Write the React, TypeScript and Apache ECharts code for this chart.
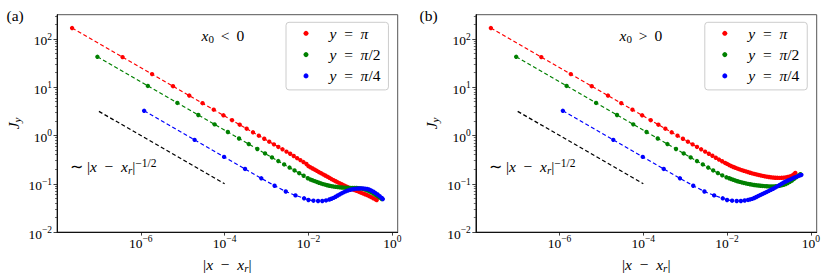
import React, { useEffect, useRef } from 'react';
import * as echarts from 'echarts';

// ---- data (log10 of |x - x_r| and log10 of J_y) ----
const redX = [-7.640, -6.436, -5.732, -5.232, -4.844, -4.527, -4.260, -4.028, -3.823, -3.640, -3.474, -3.323, -3.184, -3.055, -2.936, -2.824, -2.718, -2.619, -2.525, -2.436, -2.351, -2.270, -2.193, -2.119, -2.048,
  -2.00, -1.95, -1.90, -1.85, -1.80, -1.75, -1.70, -1.65, -1.60, -1.55, -1.50, -1.45, -1.40, -1.35, -1.30, -1.25, -1.20, -1.15, -1.10, -1.05, -1.00, -0.95, -0.90, -0.85, -0.80, -0.75, -0.70, -0.65, -0.60, -0.55, -0.50, -0.45, -0.40, -0.37];
const redYA = [2.224, 1.622, 1.270, 1.020, 0.826, 0.668, 0.534, 0.418, 0.316, 0.224, 0.141, 0.066, -0.004, -0.068, -0.128, -0.184, -0.237, -0.287, -0.334, -0.378, -0.425, -0.470, -0.510, -0.550, -0.590,
  -0.635, -0.659, -0.684, -0.708, -0.732, -0.757, -0.781, -0.805, -0.829, -0.853, -0.877, -0.902, -0.926, -0.948, -0.969, -0.990, -1.011, -1.033, -1.054, -1.075, -1.096, -1.113, -1.130, -1.147, -1.164, -1.182, -1.199, -1.216, -1.234, -1.256, -1.278, -1.300, -1.322, -1.337];
const redYB = [2.224, 1.622, 1.270, 1.020, 0.826, 0.668, 0.534, 0.418, 0.316, 0.224, 0.141, 0.066, -0.004, -0.068, -0.128, -0.184, -0.237, -0.287, -0.334, -0.378, -0.420, -0.461, -0.499, -0.534, -0.568,
  -0.588, -0.612, -0.633, -0.652, -0.669, -0.686, -0.702, -0.717, -0.731, -0.744, -0.757, -0.772, -0.784, -0.796, -0.807, -0.817, -0.827, -0.836, -0.845, -0.853, -0.860, -0.866, -0.871, -0.875, -0.877, -0.878, -0.877, -0.874, -0.868, -0.860, -0.848, -0.830, -0.800, -0.776];

const greenX = [-7.036, -5.832, -5.128, -4.628, -4.240, -3.923, -3.656, -3.424, -3.219, -3.036, -2.870, -2.719, -2.580, -2.451, -2.332, -2.220, -2.114, -2.015,
  -1.95, -1.90, -1.85, -1.80, -1.75, -1.70, -1.65, -1.60, -1.55, -1.50, -1.45, -1.40, -1.35, -1.30, -1.25, -1.20, -1.15, -1.10, -1.05, -1.00, -0.95, -0.90, -0.85, -0.80, -0.75, -0.70, -0.65, -0.60, -0.55, -0.50, -0.45, -0.40, -0.35, -0.30, -0.25];
const greenYA = [1.628, 1.026, 0.674, 0.424, 0.230, 0.072, -0.062, -0.178, -0.280, -0.372, -0.455, -0.530, -0.600, -0.664, -0.724, -0.780, -0.833, -0.885,
  -0.912, -0.928, -0.945, -0.962, -0.978, -0.993, -1.007, -1.019, -1.030, -1.040, -1.049, -1.057, -1.063, -1.068, -1.073, -1.077, -1.080, -1.082, -1.084, -1.085, -1.086, -1.086, -1.087, -1.090, -1.096, -1.105, -1.118, -1.135, -1.155, -1.178, -1.202, -1.228, -1.256, -1.286, -1.316];
const greenYB = [1.628, 1.026, 0.674, 0.424, 0.230, 0.072, -0.062, -0.178, -0.280, -0.372, -0.455, -0.530, -0.600, -0.664, -0.724, -0.778, -0.826, -0.866,
  -0.885, -0.902, -0.918, -0.933, -0.947, -0.960, -0.972, -0.983, -0.993, -1.002, -1.010, -1.018, -1.025, -1.031, -1.036, -1.041, -1.045, -1.048, -1.051, -1.053, -1.054, -1.054, -1.052, -1.048, -1.042, -1.033, -1.020, -1.004, -0.984, -0.960, -0.932, -0.900, -0.865, -0.830, -0.800];

const blueX = [-5.921, -4.717, -4.013, -3.513, -3.125, -2.808, -2.541, -2.309, -2.104,
  -2.00, -1.88, -1.77, -1.67, -1.58,
  -1.50, -1.45, -1.40, -1.35, -1.30, -1.25, -1.20, -1.15, -1.10, -1.05, -1.00, -0.95, -0.90, -0.85, -0.80, -0.75, -0.70, -0.65, -0.60, -0.55, -0.50, -0.45, -0.40, -0.35, -0.30, -0.25, -0.225];
const blueYA = [0.511, -0.091, -0.443, -0.693, -0.887, -1.040, -1.160, -1.240, -1.300,
  -1.335, -1.350, -1.356, -1.356, -1.345,
  -1.325, -1.310, -1.292, -1.268, -1.243, -1.218, -1.194, -1.172, -1.153, -1.137, -1.124, -1.114, -1.106, -1.100, -1.097, -1.095, -1.096, -1.100, -1.108, -1.120, -1.140, -1.165, -1.192, -1.222, -1.255, -1.292, -1.316];
const blueYB = [0.511, -0.091, -0.443, -0.693, -0.887, -1.040, -1.160, -1.240, -1.300,
  -1.335, -1.350, -1.356, -1.356, -1.346,
  -1.334, -1.324, -1.312, -1.294, -1.273, -1.252, -1.231, -1.210, -1.189, -1.168, -1.146, -1.124, -1.103, -1.079, -1.053, -1.027, -1.001, -0.975, -0.953, -0.933, -0.914, -0.895, -0.874, -0.857, -0.840, -0.823, -0.815];

const guideX = [-7.0, -4.0];
const guideY = [0.5, -1.0];

const xTickExps = [-6, -4, -2, 0];
const yTickExps = [-2, -1, 0, 1, 2];
const yMinorRaw = [0.02, 0.03, 0.04, 0.05, 0.06, 0.07, 0.08, 0.09, 0.2, 0.3, 0.4, 0.5, 0.6, 0.7, 0.8, 0.9, 2, 3, 4, 5, 6, 7, 8, 9, 20, 30, 40, 50, 60, 70, 80, 90, 200, 300];

const seriesNames = ['y = π', 'y = π/2', 'y = π/4'];
const legendLabels: Record<string, string> = {
  'y = π': '{g| }{i|y}{n|  =  }{i|π}',
  'y = π/2': '{g| }{i|y}{n|  =  }{i|π}{n|/2}',
  'y = π/4': '{g| }{i|y}{n|  =  }{i|π}{n|/4}',
};
const colors = ['#ff0000', '#008000', '#0000ff'];

// ---- styling ----
const SERIF = 'Liberation Serif';
const mathRich = {
  g: { fontFamily: SERIF, fontSize: 15.5, lineHeight: 18, width: 16, color: '#000', verticalAlign: 'middle' },
  i: { fontFamily: SERIF, fontStyle: 'italic', fontSize: 15.5, lineHeight: 18, color: '#000', verticalAlign: 'middle' },
  n: { fontFamily: SERIF, fontSize: 15.5, lineHeight: 18, color: '#000', verticalAlign: 'middle' },
  sub: { fontFamily: SERIF, fontStyle: 'italic', fontSize: 11, lineHeight: 10, color: '#000', verticalAlign: 'bottom' },
  subn: { fontFamily: SERIF, fontSize: 11, lineHeight: 10, color: '#000', verticalAlign: 'bottom' },
  sup: { fontFamily: SERIF, fontSize: 11.5, lineHeight: 8, color: '#000', verticalAlign: 'top' },
};
const tickRich = {
  b: { fontFamily: SERIF, fontSize: 13.5, lineHeight: 18, color: '#000', verticalAlign: 'middle' },
  s: { fontFamily: SERIF, fontSize: 9.5, lineHeight: 8, color: '#000', verticalAlign: 'top' },
};
const powLabel = (v: number) => {
  const e = Math.round(v);
  return '{b|10}{s|' + (e < 0 ? '\u2212' + -e : String(e)) + '}';
};

const panels = [
  { left: 57, width: 340.7, xMax: 0.13, red: redYA, green: greenYA, blue: blueYA, tag: '(a)', tagX: 6.5, note: '{i|x}{subn|0}{n| \u2009<\u2009 0}', noteX: 201.5, annX: 70, legendLeft: 286 },
  { left: 475.8, width: 340.9, xMax: 0.14, red: redYB, green: greenYB, blue: blueYB, tag: '(b)', tagX: 419.5, note: '{i|x}{subn|0}{n| \u2009>\u2009 0}', noteX: 619.5, annX: 489, legendLeft: 704.8 },
];

const GRID_TOP = 14.7;
const GRID_H = 219.3;
const Y_MIN = -2;
const Y_MAX = 2.5;

function buildOption() {
  const grid: any[] = [];
  const xAxis: any[] = [];
  const yAxis: any[] = [];
  const series: any[] = [];
  const legend: any[] = [];
  const graphic: any[] = [];

  panels.forEach((p, k) => {
    grid.push({ left: p.left, top: GRID_TOP, width: p.width, height: GRID_H, show: true, borderColor: '#555', borderWidth: 1, backgroundColor: 'transparent' });
    xAxis.push({
      type: 'value', gridIndex: k, min: -8, max: p.xMax,
      axisLine: { show: true, onZero: false, lineStyle: { color: '#111', width: 1 } },
      axisTick: { show: true, customValues: xTickExps, length: 3.5, lineStyle: { color: '#111', width: 0.8 } },
      axisLabel: { customValues: xTickExps, formatter: powLabel, rich: tickRich, margin: 2 },
      splitLine: { show: false },
      name: '{n||}{i|x}{n|  \u2212  }{i|x}{sub|r}{n||}',
      nameLocation: 'middle', nameGap: 19,
      nameTextStyle: { fontFamily: SERIF, fontSize: 15.5, lineHeight: 18, color: '#000', rich: mathRich },
    });
    yAxis.push({
      type: 'value', gridIndex: k, min: Y_MIN, max: Y_MAX, position: 'left',
      axisLine: { show: true, onZero: false, lineStyle: { color: '#111', width: 1 } },
      axisTick: { show: true, customValues: yTickExps, length: 3.5, lineStyle: { color: '#111', width: 0.8 } },
      axisLabel: { customValues: yTickExps, formatter: powLabel, rich: tickRich, margin: 5, padding: [4, 0, 0, 0] },
      splitLine: { show: false },
      name: '{i|J}{sub|y}', nameLocation: 'middle', nameGap: 35, nameRotate: 90,
      nameTextStyle: { fontFamily: SERIF, fontSize: 15.5, lineHeight: 18, color: '#000', rich: mathRich },
    });
    yAxis.push({
      type: 'value', gridIndex: k, min: Y_MIN, max: Y_MAX, position: 'left',
      axisLine: { show: false, onZero: false },
      axisTick: { show: true, customValues: yMinorRaw.map((v) => Math.log10(v)), length: 2, lineStyle: { color: '#111', width: 0.6 } },
      axisLabel: { show: false },
      splitLine: { show: false },
    });

    const yi = k * 2;
    const ys = [p.red, p.green, p.blue];
    const xs = [redX, greenX, blueX];
    seriesNames.forEach((name, j) => {
      series.push({
        type: 'line', name, xAxisIndex: k, yAxisIndex: yi,
        data: xs[j].map((x, i) => [x, ys[j][i]]),
        symbol: 'circle', symbolSize: 4.4, showSymbol: true, showAllSymbol: true,
        itemStyle: { color: colors[j], borderWidth: 0 },
        lineStyle: { color: colors[j], width: 1.2, type: [4, 2.5] },
        emphasis: { disabled: true }, silent: true, z: 2 + j,
      });
    });
    series.push({
      type: 'line', name: 'guide' + k, xAxisIndex: k, yAxisIndex: yi,
      data: guideX.map((x, i) => [x, guideY[i]]),
      symbol: 'none', lineStyle: { color: '#000', width: 1.3, type: [4, 2.5] },
      emphasis: { disabled: true }, silent: true, z: 2,
    });

    legend.push({
      show: true, left: p.legendLeft, top: 22.3, orient: 'vertical',
      data: seriesNames, icon: 'circle', itemWidth: 5, itemHeight: 5, itemGap: 3.3,
      padding: [2, 8, 5, 17.5],
      backgroundColor: 'rgba(255,255,255,0.8)', borderColor: '#cccccc', borderWidth: 1, borderRadius: 3,
      selectedMode: false,
      formatter: (name: string) => legendLabels[name] || name,
      textStyle: { fontFamily: SERIF, fontSize: 15.5, lineHeight: 18, color: '#000', rich: mathRich },
    });

    graphic.push(
      { type: 'text', x: p.tagX, y: 15, style: { text: p.tag, fontFamily: SERIF, fontSize: 15.5, fill: '#000', align: 'left', verticalAlign: 'middle' } },
      { type: 'text', x: p.noteX, y: 35, style: { text: p.note, rich: mathRich, fontFamily: SERIF, fontSize: 15.5, fill: '#000', align: 'left', verticalAlign: 'middle' } },
      { type: 'text', x: p.annX, y: 166, style: { text: '{n|\u223C |}{i|x}{n|  \u2212  }{i|x}{sub|r}{n||}{sup|\u22121/2}', rich: mathRich, fontFamily: SERIF, fontSize: 15.5, fill: '#000', align: 'left', verticalAlign: 'middle' } },
    );
  });

  return { animation: false, backgroundColor: '#ffffff', grid, xAxis, yAxis, series, legend, graphic };
}

export default function App() {
  const ref = useRef<HTMLDivElement>(null);
  useEffect(() => {
    const chart = echarts.init(ref.current as HTMLDivElement, null, { renderer: 'svg', width: 830, height: 278 });
    chart.setOption(buildOption() as any);
    return () => chart.dispose();
  }, []);
  return <div ref={ref} style={{ position: 'fixed', left: 0, top: 0, width: 830, height: 278, background: '#fff' }} />;
}
